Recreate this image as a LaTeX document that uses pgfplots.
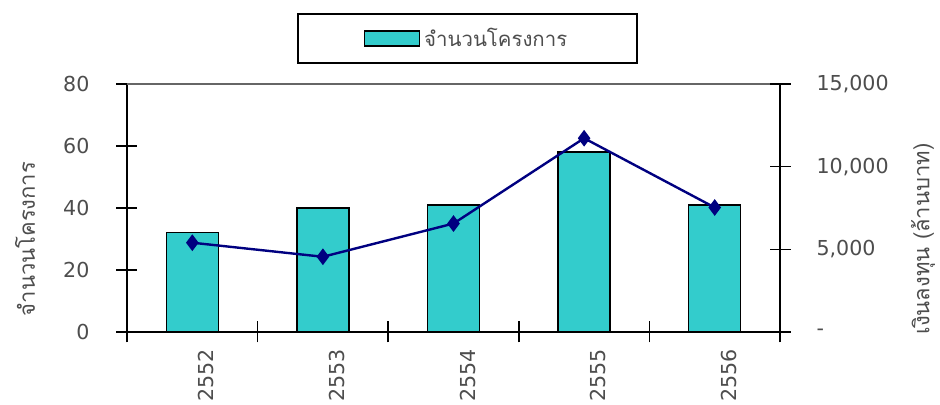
\documentclass[border=0pt]{standalone}
\usepackage{fontspec}
\setmainfont{DejaVu Sans}
\newfontfamily\thaifont[Script=Thai]{Loma}
\usepackage{pgfplots}
\pgfplotsset{compat=1.18}
\definecolor{barfill}{HTML}{33CCCC}
\definecolor{navyline}{HTML}{000080}
\definecolor{txt}{HTML}{4D4D4D}
\begin{document}
\begin{tikzpicture}
\pgfplotsset{
  base/.style={scale only axis, width=326.5pt, height=124pt, at={(0,0)}, anchor=south west,
    xmin=-0.5, xmax=4.5,
    /pgf/number format/assume math mode=true,
    tick align=center, major tick length=10.5pt,
    tick style={black, line width=0.8pt},
    ticklabel style={font=\fontsize{10.3}{12}\selectfont, text=txt},
    axis line style={line width=0.9pt},
    label style={font=\thaifont\fontsize{11}{13}\selectfont, text=txt},
  }
}
\begin{axis}[base,
  axis x line*=bottom, axis y line*=left,
  ymin=0, ymax=80, ytick={0,20,...,80},
  yticklabel style={xshift=-10pt},
  xtick={-0.5,0.5,...,4.5},
  x tick label as interval,
  xticklabels={2552,2553,2554,2555,2556},
  xticklabel style={rotate=90, anchor=east, yshift=-7pt},
  ylabel={จำนวนโครงการ},
  ylabel style={at={(rel axis cs:-0.156,0.375)}, anchor=center},
  legend style={at={(0.2603,1.2863)}, anchor=north west, draw=black, line width=0.8pt,
    inner xsep=33pt, inner ysep=5pt, font=\thaifont\fontsize{10.2}{12}\selectfont, text=txt},
]
\draw[gray!80!black, line width=0.8pt] (rel axis cs:0,1) -- (rel axis cs:1,1);
\addplot[ybar, bar width=26pt, fill=barfill, draw=black, line width=0.7pt,
  legend image code/.code={\draw[fill=barfill, draw=black, line width=0.7pt] (0pt,-3.75pt) rectangle (27.5pt,3.75pt);}]
  coordinates {(0,32) (1,40) (2,41) (3,58) (4,41)};
\addlegendentry{จำนวนโครงการ}
\end{axis}
\begin{axis}[base,
  axis x line=none, axis y line*=right,
  ymin=0, ymax=15000, ytick={0,5000,10000,15000},
  yticklabels={-,{5,000},{10,000},{15,000}},
  scaled y ticks=false,
  yticklabel style={anchor=west, xshift=9.5pt},
  ylabel={เงินลงทุน (ล้านบาท)},
  ylabel style={at={(rel axis cs:1.219,0.375)}, anchor=center},
]
\addplot[navyline, line width=1.2pt, mark=diamond*, mark size=3.2pt, mark options={fill=navyline, solid}]
  coordinates {(0,5400) (1,4550) (2,6560) (3,11720) (4,7530)};
\end{axis}
\pgfresetboundingbox
\path[use as bounding box] (-63.5pt,-36.5pt) rectangle (406.5pt,166pt);
\end{tikzpicture}
\end{document}
